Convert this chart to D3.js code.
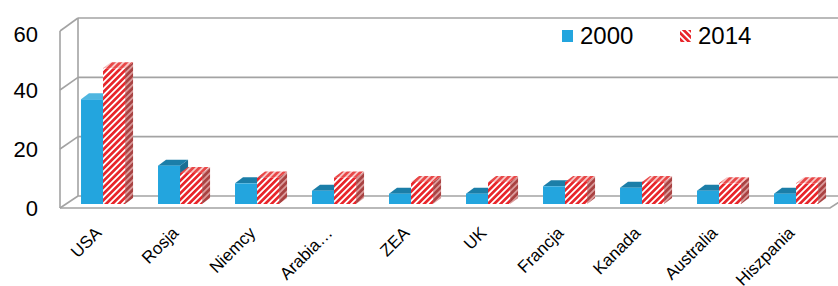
<!DOCTYPE html>
<html>
<head>
<meta charset="utf-8">
<script src="https://cdn.jsdelivr.net/npm/d3@7"></script>
<style>
  body { margin: 0; background: #fff; }
  svg { display: block; font-family: Arial, "Liberation Sans", sans-serif; }
</style>
</head>
<body>
<div id="chart"></div>
<script>
// Data
const categories = ["USA", "Rosja", "Niemcy", "Arabia…", "ZEA", "UK", "Francja", "Kanada", "Australia", "Hiszpania"];
const values2000 = [35.5, 13, 7, 4.5, 3.5, 3.5, 6, 5.5, 4.5, 3.5];
const values2014 = [46, 10.5, 9, 9, 7.5, 7.5, 7.5, 7.5, 7, 7];
const seriesNames = ["2000", "2014"];
const yTicks = [0, 20, 40, 60];

const width = 838, height = 286;

const svg = d3.select("#chart")
    .append("svg")
    .attr("width", width)
    .attr("height", height);

// Patterns for the hatched series
const defs = svg.append("defs");
function stripes(id, bg, fg, angle) {
    const p = defs.append("pattern")
        .attr("id", id)
        .attr("patternUnits", "userSpaceOnUse")
        .attr("width", 4.5).attr("height", 4.5)
        .attr("patternTransform", `rotate(${angle})`);
    p.append("rect").attr("width", 4.5).attr("height", 4.5).attr("fill", bg);
    p.append("rect").attr("width", 1.8).attr("height", 4.5).attr("fill", fg);
}
stripes("redFront", "#e8262b", "#ffffff", 45);
stripes("redTop", "#e84848", "#f7c8c8", 45);
stripes("redSide", "#a94242", "#d99a9a", 45);
stripes("redLegend", "#e8262b", "#ffffff", -45);

// Scales
const x = d3.scaleBand()
    .domain(categories)
    .range([60, 830])
    .padding(0);

const yFront = d3.scaleLinear().domain([0, 60]).range([208, 31]);
const yBack = d3.scaleLinear().domain([0, 60]).range([196, 18]);
const yBar = d3.scaleLinear().domain([0, 60]).range([204, 27]);

const depthX = 18;            // wall depth offset
const barDX = 8, barDY = -6;  // bar depth offset

const gridColor = "#a3a3a3";

// Walls and gridlines
const grid = svg.append("g")
    .attr("fill", "none")
    .attr("stroke", gridColor)
    .attr("stroke-width", 1.6);

yTicks.forEach(t => {
    // back wall line
    grid.append("line")
        .attr("x1", 60 + depthX).attr("x2", width + 5)
        .attr("y1", yBack(t)).attr("y2", yBack(t));
    // side wall diagonal
    grid.append("line")
        .attr("x1", 60).attr("y1", yFront(t))
        .attr("x2", 60 + depthX).attr("y2", yBack(t));
});
grid.append("line")
    .attr("x1", 60).attr("x2", 60)
    .attr("y1", yFront(0)).attr("y2", yFront(60));
grid.append("line")
    .attr("x1", 60 + depthX).attr("x2", 60 + depthX)
    .attr("y1", yBack(0)).attr("y2", yBack(60));
// floor front edge
grid.append("path")
    .attr("d", `M60,${yFront(0)}L830,${yFront(0)}L${830 + depthX},${yBack(0)}`);

// Y labels
svg.append("g")
    .selectAll("text")
    .data(yTicks)
    .enter().append("text")
    .attr("x", 38)
    .attr("y", d => yFront(d) + (d === 60 ? 3 : 0))
    .attr("dy", "0.36em")
    .attr("text-anchor", "end")
    .attr("font-size", 22)
    .attr("fill", "#000")
    .text(d => d);

// Bars
const barW = x.bandwidth() * 0.286;
const barOff = x.bandwidth() * 0.273;

function box(g, x0, v, front, top, side) {
    const x1 = x0 + barW;
    const y0 = yBar(0), y1 = yBar(v);
    g.append("path")
        .attr("d", `M${x1},${y0}L${x1 + barDX},${y0 + barDY}L${x1 + barDX},${y1 + barDY}L${x1},${y1}Z`)
        .attr("fill", side);
    g.append("path")
        .attr("d", `M${x0},${y1}L${x0 + barDX},${y1 + barDY}L${x1 + barDX},${y1 + barDY}L${x1},${y1}Z`)
        .attr("fill", top);
    g.append("rect")
        .attr("x", x0).attr("y", y1)
        .attr("width", barW).attr("height", y0 - y1)
        .attr("fill", front);
}

const bars = svg.append("g");
categories.forEach((c, i) => {
    const g = bars.append("g");
    const bx = x(c) + barOff;
    box(g, bx, values2000[i], "#23a5de", i === 0 ? "#4fb6e0" : "#1b7ea8", "#1a6f94");
    box(g, bx + barW, values2014[i], "url(#redFront)", "url(#redTop)", "url(#redSide)");
});

// X labels
svg.append("g")
    .selectAll("text")
    .data(categories)
    .enter().append("text")
    .attr("transform", d => `translate(${x(d) + x.bandwidth() / 2 + 4},234) rotate(-45)`)
    .attr("text-anchor", "end")
    .attr("font-size", 17)
    .attr("fill", "#000")
    .text(d => d);

// Legend
const legend = svg.append("g");
const legendItems = [
    {name: seriesNames[0], fill: "#23a5de", x: 562},
    {name: seriesNames[1], fill: "url(#redLegend)", x: 680}
];
legendItems.forEach(d => {
    legend.append("rect")
        .attr("x", d.x).attr("y", 30)
        .attr("width", 11).attr("height", 12)
        .attr("fill", d.fill);
    legend.append("text")
        .attr("x", d.x + 18).attr("y", 44)
        .attr("font-size", 24)
        .attr("fill", "#000")
        .text(d.name);
});
</script>
</body>
</html>
